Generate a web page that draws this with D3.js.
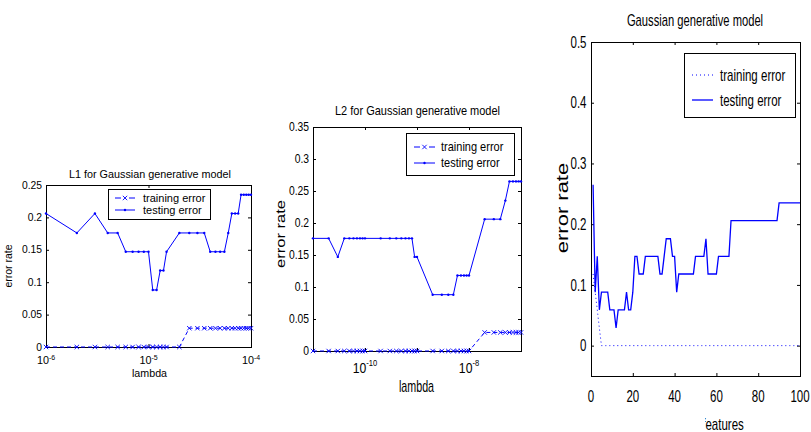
<!DOCTYPE html>
<html>
<head>
<meta charset="utf-8">
<script src="https://cdn.jsdelivr.net/npm/d3@7"></script>
<style>
  body { margin: 0; background: #fff; }
  svg { display: block; font-family: "Liberation Sans", Arial, Helvetica, sans-serif; }
</style>
</head>
<body>
<svg id="fig" width="811" height="432"></svg>
<script>
// ---- L1 panel data
const l1Lambda = [1e-6, 2e-6, 3e-6, 4e-6, 5e-6, 6e-6, 7e-6, 8e-6, 9e-6, 1e-5,
    1.1e-5, 1.2e-5, 1.3e-5, 1.4e-5, 1.5e-5, 2e-5, 2.5e-5, 3e-5, 3.5e-5, 4e-5,
    4.5e-5, 5e-5, 5.5e-5, 6e-5, 6.5e-5, 7e-5, 7.5e-5, 8e-5, 8.5e-5, 9e-5, 9.5e-5, 1e-4];
const l1Test = [.206, .176, .206, .176, .176, .147, .147, .147, .147, .147,
    .088, .088, .118, .118, .147, .176, .176, .176, .176, .147,
    .147, .147, .147, .176, .206, .206, .206, .235, .235, .235, .235, .235];
const l1Train = [0, 0, 0, 0, 0, 0, 0, 0, 0, 0, 0, 0, 0, 0, 0, 0,
    .029, .029, .029, .029, .029, .029, .029, .029, .029, .029, .029, .029, .029, .029, .029, .029];
const l1YTicks = [0, 0.05, 0.1, 0.15, 0.2, 0.25];
const l1XTicks = [1e-6, 1e-5, 1e-4];

// ---- L2 panel data
const l2Lambda = [1e-11, 2e-11, 3e-11, 4e-11, 5e-11, 6e-11, 7e-11, 8e-11, 9e-11,
    1e-10, 2e-10, 3e-10, 4e-10, 5e-10, 6e-10, 7e-10, 8e-10, 9e-10,
    1e-9, 2e-9, 3e-9, 4e-9, 5e-9, 6e-9, 7e-9, 8e-9, 9e-9,
    1e-8, 2e-8, 3e-8, 4e-8, 5e-8, 6e-8, 7e-8, 8e-8, 9e-8, 1e-7];
const l2Test = [.176, .176, .147, .176, .176, .176, .176, .176, .176,
    .176, .176, .176, .176, .176, .176, .176, .176, .147,
    .147, .088, .088, .088, .088, .118, .118, .118, .118,
    .118, .206, .206, .206, .235, .265, .265, .265, .265, .265];
const l2Train = [0, 0, 0, 0, 0, 0, 0, 0, 0, 0, 0, 0, 0, 0, 0, 0, 0, 0,
    0, 0, 0, 0, 0, 0, 0, 0, 0, 0,
    .029, .029, .029, .029, .029, .029, .029, .029, .029];
const l2YTicks = [0, 0.05, 0.1, 0.15, 0.2, 0.25, 0.3, 0.35];
const l2XMarks = [1e-10, 1e-9, 1e-8];
const l2XTicks = [1e-10, 1e-8];

// ---- feature panel data (features 1..100)
const features = [1, 2, 3, 4, 5, 6, 7, 8, 9, 10, 11, 12, 13, 14, 15, 16, 17, 18, 19, 20,
    21, 22, 23, 24, 25, 26, 27, 28, 29, 30, 31, 32, 33, 34, 35, 36, 37, 38, 39, 40,
    41, 42, 43, 44, 45, 46, 47, 48, 49, 50, 51, 52, 53, 54, 55, 56, 57, 58, 59, 60,
    61, 62, 63, 64, 65, 66, 67, 68, 69, 70, 71, 72, 73, 74, 75, 76, 77, 78, 79, 80,
    81, 82, 83, 84, 85, 86, 87, 88, 89, 90, 91, 92, 93, 94, 95, 96, 97, 98, 99, 100];
const featTest = [.265, .088, .147, .059, .088, .088, .088, .088, .059, .059,
    .059, .029, .059, .059, .059, .059, .088, .059, .059, .088,
    .147, .147, .118, .118, .118, .147, .147, .147, .147, .147,
    .147, .147, .118, .118, .147, .176, .176, .176, .147, .147,
    .088, .118, .118, .118, .118, .118, .118, .118, .118, .147,
    .147, .147, .147, .147, .176, .118, .118, .118, .118, .118,
    .147, .147, .147, .147, .147, .147, .206, .206, .206, .206,
    .206, .206, .206, .206, .206, .206, .206, .206, .206, .206,
    .206, .206, .206, .206, .206, .206, .206, .206, .206, .235,
    .235, .235, .235, .235, .235, .235, .235, .235, .235, .235];
const featTrain = [.118, .088, .059, .029, 0, 0, 0, 0, 0, 0,
    0, 0, 0, 0, 0, 0, 0, 0, 0, 0, 0, 0, 0, 0, 0, 0, 0, 0, 0, 0,
    0, 0, 0, 0, 0, 0, 0, 0, 0, 0, 0, 0, 0, 0, 0, 0, 0, 0, 0, 0,
    0, 0, 0, 0, 0, 0, 0, 0, 0, 0, 0, 0, 0, 0, 0, 0, 0, 0, 0, 0,
    0, 0, 0, 0, 0, 0, 0, 0, 0, 0, 0, 0, 0, 0, 0, 0, 0, 0, 0, 0,
    0, 0, 0, 0, 0, 0, 0, 0, 0, 0];
const featYTicks = [0, 0.1, 0.2, 0.3, 0.4, 0.5];
const featXTicks = [0, 20, 40, 60, 80, 100];

const legendNames = ["training error", "testing error"];

const svg = d3.select("#fig");
const blue = "#0000ff";
const fmt = d => String(+d.toFixed(2));

// text helper: sx squashes glyphs horizontally (the source figures were rescaled)
function txt(g, x, y, s, size, sx, anchor, rot) {
    return g.append("text")
        .attr("transform", `translate(${x},${y}) scale(${sx},1)` + (rot ? " rotate(-90)" : ""))
        .attr("font-size", size)
        .attr("text-anchor", anchor || "middle")
        .text(s);
}

function xMark(g, cx, cy, r) {
    g.append("path")
        .attr("d", `M${cx - r},${cy - r}L${cx + r},${cy + r}M${cx - r},${cy + r}L${cx + r},${cy - r}`)
        .attr("stroke", blue).attr("stroke-width", 0.9).attr("fill", "none");
}

function dot(g, cx, cy) {
    g.append("circle").attr("cx", cx).attr("cy", cy).attr("r", 1.2).attr("fill", blue);
}

function panel(o) {
    const g = svg.append("g");
    const [x0, x1] = o.x.range();
    const [yb, yt] = o.y.range();

    // box and inward ticks on all four sides
    const sides = [
        [d3.axisBottom(o.x).tickValues(o.xMarks), `translate(0,${yb})`],
        [d3.axisTop(o.x).tickValues(o.xMarks), `translate(0,${yt})`],
        [d3.axisLeft(o.y).tickValues(o.yTicks), `translate(${x0},0)`],
        [d3.axisRight(o.y).tickValues(o.yTicks), `translate(${x1},0)`]
    ];
    sides.forEach(([ax, tr]) => {
        const a = g.append("g").attr("transform", tr)
            .call(ax.tickSize(-o.tick).tickFormat(""));
        a.select(".domain").remove();
    });
    g.append("rect")
        .attr("x", x0 + 0.5).attr("y", yt + 0.5)
        .attr("width", x1 - x0).attr("height", yb - yt)
        .attr("fill", "none").attr("stroke", "#000").attr("stroke-width", 1);

    // y tick labels
    o.yTicks.forEach(v => {
        txt(g, x0 - o.yLab.gap, o.y(v), fmt(v), o.yLab.size, o.yLab.sx, "end")
            .attr("dy", "0.35em");
    });

    // x tick labels
    o.xTicks.forEach(v => {
        const L = o.xLab;
        if (L.log) {
            const t = txt(g, o.x(v), L.y, "10", L.size, L.sx, "middle");
            t.append("tspan").attr("font-size", L.expSize).attr("dy", L.expDy)
                .text(String(Math.round(Math.log10(v))));
        } else {
            txt(g, o.x(v), L.y, String(v), L.size, L.sx, "middle");
        }
    });

    // titles and axis labels
    txt(g, o.title.x, o.title.y, o.title.text, o.title.size, o.title.sx);
    const xg = g.append("g");
    if (o.xTitle.clip) xg.attr("clip-path", o.xTitle.clip);
    txt(xg, o.xTitle.x, o.xTitle.y, o.xTitle.text, o.xTitle.size, o.xTitle.sx);
    txt(g, o.yTitle.x, o.yTitle.y, o.yTitle.text, o.yTitle.size, o.yTitle.sx, "middle", true);

    // series
    const line = d3.line().x(d => o.x(d[0])).y(d => o.y(d[1]));
    o.series.forEach(s => {
        const pts = s.xs.map((xv, i) => [xv, s.ys[i]]);
        g.append("path").attr("d", line(pts))
            .attr("fill", "none").attr("stroke", blue)
            .attr("stroke-width", s.width || 1)
            .attr("stroke-dasharray", s.dash || null);
        if (s.marker === "x") pts.forEach(p => xMark(g, o.x(p[0]), o.y(p[1]), 2.2));
        if (s.marker === "dot") pts.forEach(p => dot(g, o.x(p[0]), o.y(p[1])));
    });

    // legend
    const lg = o.legend;
    g.append("rect").attr("x", lg.x0 + 0.5).attr("y", lg.y0 + 0.5)
        .attr("width", lg.x1 - lg.x0).attr("height", lg.y1 - lg.y0)
        .attr("fill", "#fff").attr("stroke", "#000");
    o.series.forEach((s, i) => {
        const y = lg.rows[i];
        g.append("line").attr("x1", lg.s0).attr("x2", lg.s1).attr("y1", y).attr("y2", y)
            .attr("stroke", blue).attr("stroke-width", s.width || 1)
            .attr("stroke-dasharray", s.legendDash || null);
        const mid = (lg.s0 + lg.s1) / 2;
        if (s.marker === "x") xMark(g, mid, y, 2.2);
        if (s.marker === "dot") dot(g, mid, y);
        txt(g, lg.tx, y, legendNames[i], lg.size, lg.sx, "start").attr("dy", "0.35em");
    });
}

// clip for the partly hidden x label of the right panel
svg.append("defs").append("clipPath").attr("id", "xlclip")
    .append("rect").attr("x", 705).attr("y", 0).attr("width", 120).attr("height", 432);

panel({
    x: d3.scaleLog().domain([1e-6, 1e-4]).range([46, 251]),
    y: d3.scaleLinear().domain([0, 0.25]).range([347, 185]),
    tick: 3,
    xMarks: [1e-5], yTicks: l1YTicks, xTicks: l1XTicks,
    yLab: { gap: 4, size: 10.3, sx: 1 },
    xLab: { log: true, y: 364, size: 10.8, sx: 1, expSize: 7, expDy: -4.5 },
    title: { text: "L1 for Gaussian generative model", x: 150, y: 178, size: 10.8, sx: 1 },
    xTitle: { text: "lambda", x: 149.5, y: 377, size: 10.7, sx: 1 },
    yTitle: { text: "error rate", x: 12, y: 266, size: 10.5, sx: 1 },
    series: [
        { xs: l1Lambda, ys: l1Train, marker: "x", dash: "4,3", legendDash: "6,8" },
        { xs: l1Lambda, ys: l1Test, marker: "dot" }
    ],
    legend: { x0: 108, y0: 189, x1: 210, y1: 219, rows: [198, 210], s0: 115, s1: 135, tx: 143, size: 11, sx: 1 }
});

panel({
    x: d3.scaleLog().domain([1e-11, 1e-7]).range([313, 521]),
    y: d3.scaleLinear().domain([0, 0.35]).range([351, 127]),
    tick: 3,
    xMarks: l2XMarks, yTicks: l2YTicks, xTicks: l2XTicks,
    yLab: { gap: 4, size: 12.6, sx: 0.82 },
    xLab: { log: true, y: 373, size: 14.5, sx: 0.84, expSize: 9, expDy: -7.5 },
    title: { text: "L2 for Gaussian generative model", x: 417.5, y: 115, size: 12.5, sx: 0.88 },
    xTitle: { text: "lambda", x: 416.5, y: 392, size: 16, sx: 0.67 },
    yTitle: { text: "error rate", x: 285, y: 234, size: 16.5, sx: 0.78 },
    series: [
        { xs: l2Lambda, ys: l2Train, marker: "x", dash: "4,3", legendDash: "6,9" },
        { xs: l2Lambda, ys: l2Test, marker: "dot" }
    ],
    legend: { x0: 406, y0: 133, x1: 514, y1: 175, rows: [147, 163], s0: 414, s1: 435, tx: 441, size: 12.5, sx: 0.88 }
});

panel({
    x: d3.scaleLinear().domain([0, 100]).range([591, 800]),
    y: d3.scaleLinear().domain([-0.05, 0.5]).range([376, 42]),
    tick: 3,
    xMarks: featXTicks, yTicks: featYTicks, xTicks: featXTicks,
    yLab: { gap: 4.5, size: 16, sx: 0.72 },
    xLab: { log: false, y: 402, size: 16, sx: 0.72 },
    title: { text: "Gaussian generative model", x: 695, y: 26, size: 16, sx: 0.70 },
    xTitle: { text: "number of features", x: 695.5, y: 430, size: 16, sx: 0.72, clip: "url(#xlclip)" },
    yTitle: { text: "error rate", x: 568, y: 208, size: 22, sx: 0.74 },
    series: [
        { xs: features, ys: featTrain, dash: "1,3", legendDash: "1,3" },
        { xs: features, ys: featTest, width: 1.3 }
    ],
    legend: { x0: 684, y0: 53, x1: 795, y1: 117, rows: [75, 100], s0: 692, s1: 713, tx: 720, size: 16, sx: 0.72 }
});
</script>
</body>
</html>
